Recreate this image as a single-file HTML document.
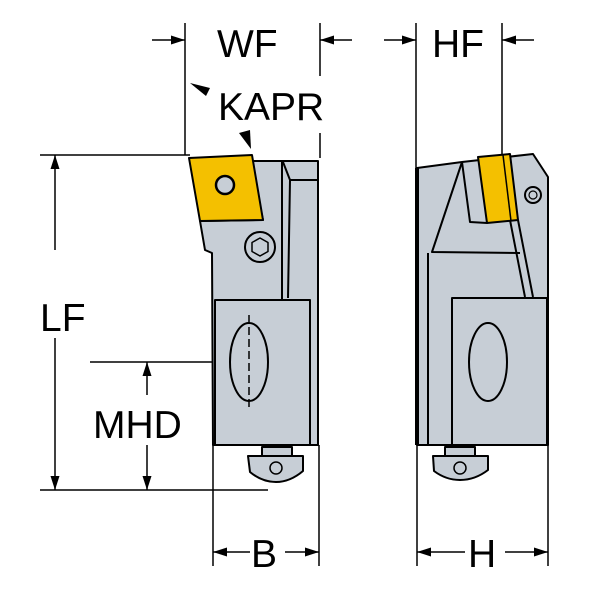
<!DOCTYPE html><html><head><style>body{margin:0;background:#fff}svg{display:block}</style></head><body>
<svg width="600" height="600" viewBox="0 0 600 600" xmlns="http://www.w3.org/2000/svg">
<defs><marker id="b" viewBox="0 0 14 10" refX="14" refY="5" markerWidth="14" markerHeight="10" orient="auto" markerUnits="userSpaceOnUse"><path d="M0,0.5 L14,5 L0,9.5z" fill="#000"/></marker></defs>
<g stroke="#000" stroke-width="1.5" fill="none">
<line x1="185" y1="23" x2="185" y2="155"/><line x1="320" y1="23" x2="320" y2="76"/><line x1="320" y1="133" x2="320" y2="158"/>
<line x1="416" y1="23" x2="416" y2="168"/><line x1="502" y1="23" x2="502" y2="155"/>
<line x1="152" y1="40" x2="185" y2="40" marker-end="url(#b)"/><line x1="352" y1="40" x2="320" y2="40" marker-end="url(#b)"/>
<line x1="384" y1="40" x2="416" y2="40" marker-end="url(#b)"/><line x1="534" y1="40" x2="502" y2="40" marker-end="url(#b)"/>
<line x1="40" y1="155" x2="190" y2="155"/><line x1="40" y1="490" x2="268" y2="490"/>
<line x1="55" y1="250" x2="55" y2="155" marker-end="url(#b)"/><line x1="55" y1="338" x2="55" y2="490" marker-end="url(#b)"/>
<line x1="90" y1="362" x2="280" y2="362"/>
<line x1="147" y1="395" x2="147" y2="362" marker-end="url(#b)"/><line x1="147" y1="445" x2="147" y2="490" marker-end="url(#b)"/>
<line x1="213" y1="445" x2="213" y2="566"/><line x1="319" y1="445" x2="319" y2="566"/>
<line x1="417" y1="443" x2="417" y2="566"/><line x1="548" y1="443" x2="548" y2="566"/>
<line x1="250" y1="552" x2="213" y2="552" marker-end="url(#b)"/><line x1="285" y1="552" x2="319" y2="552" marker-end="url(#b)"/>
<line x1="465" y1="552" x2="417" y2="552" marker-end="url(#b)"/><line x1="505" y1="552" x2="548" y2="552" marker-end="url(#b)"/>
</g>
<path d="M190,83 L210,88 L206,96z" fill="#000"/><path d="M239,133 L250,130 L251,149z" fill="#000"/>
<g font-family="Liberation Sans, sans-serif" font-size="39" fill="#000">
<text x="217" y="57">WF</text><text x="432" y="57">HF</text><text x="218" y="120">KAPR</text>
<text x="40" y="331">LF</text><text x="93" y="438">MHD</text><text x="251" y="567">B</text><text x="468" y="567">H</text>
</g>
<g stroke="#000" stroke-width="2" fill="#c7ced6" stroke-linejoin="round">
<path d="M250,161 L318,161 L318,445 L213,445 L212,253 L205,250 L200,221 L263,220z"/>
<line x1="282" y1="161" x2="282" y2="300"/>
<path d="M283,162 L290,180 L318,180 M290,180 L288,298" fill="none"/>
<rect x="215" y="300" width="95" height="145"/>
<circle cx="260" cy="247" r="15"/><path d="M260,238 L268,242.5 L268,251.5 L260,256 L252,251.5 L252,242.5z" fill="none" stroke-width="1.5"/>
<ellipse cx="249" cy="362" rx="19" ry="39" fill="none"/>
<line x1="249" y1="315" x2="249" y2="410" stroke-dasharray="8,4" stroke-width="1.5"/>
<rect x="262" y="447" width="30" height="9"/>
<path d="M248,456 L303,456 L303,471 Q290,482 276,482 Q262,482 250,472z"/>
<circle cx="276" cy="468" r="6" fill="none" stroke-width="1.5"/>
<path d="M189,158 L252,155 L263,220 L200,221z" fill="#f4c000"/>
<circle cx="225" cy="185" r="9" fill="#c7ced6" stroke-width="2.5"/>
</g>
<g stroke="#000" stroke-width="2" fill="#c7ced6" stroke-linejoin="round">
<path d="M417,168 L462,162 L533,154 L548,177 L548,445 L417,445z"/>
<line x1="417" y1="168" x2="417" y2="445" stroke-width="4"/>
<path d="M462,162 L432,252 L520,253" fill="none"/>
<line x1="428" y1="253" x2="428" y2="445"/>
<path d="M462,162 L470,222 L487,223" fill="none"/>
<path d="M510,220 L525,297 M518,220 L533,297" fill="none"/>
<rect x="452" y="298" width="95" height="147"/>
<ellipse cx="488" cy="362" rx="19" ry="39" fill="none"/>
<circle cx="533" cy="195" r="8" fill="none"/><circle cx="533" cy="195" r="4" fill="none" stroke-width="1.2"/>
<path d="M478,157 L510,154 L518,220 L487,223z" fill="#f4c000"/>
<line x1="503" y1="155" x2="511" y2="221" stroke-width="1.5"/>
<rect x="445" y="447" width="30" height="9"/>
<path d="M433,456 L488,456 L488,470 Q475,480 460,480 Q446,480 434,471z"/>
<circle cx="460" cy="468" r="6" fill="none" stroke-width="1.5"/>
</g>
</svg>
</body></html>
